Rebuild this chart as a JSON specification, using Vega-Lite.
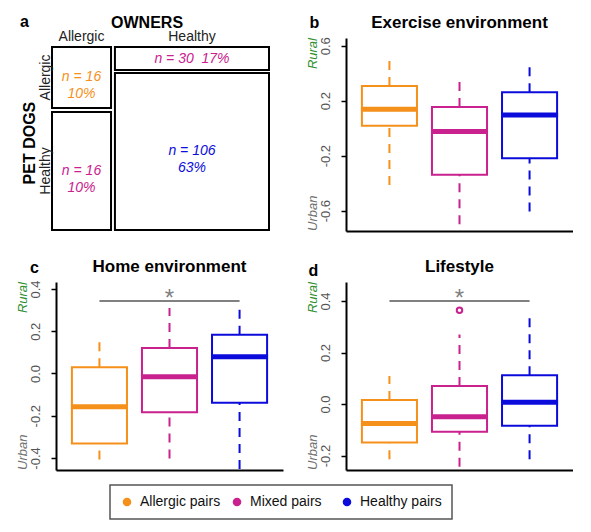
{
  "$schema": "https://vega.github.io/schema/vega-lite/v6.json",
  "background": "white",
  "padding": {"left": 17, "top": 14, "right": 0, "bottom": 0},
  "bounds": "flush",
  "columns": 2,
  "spacing": {"row": 51, "column": 63},
  "config": {
    "font": "Liberation Sans",
    "view": {"stroke": null},
    "axis": {"domainColor": "black", "domainWidth": 2, "tickColor": "black", "tickWidth": 1.5, "tickSize": 5, "labelFont": "Liberation Sans", "labelFontSize": 13, "labelColor": "#555555", "labelAngle": 270, "labelAlign": "center", "labelBaseline": "bottom", "labelPadding": 9, "grid": false}
  },
  "datasets": {
    "exercise": [
      {"group": "Allergic pairs", "lo": -0.413, "q1": 0.018, "med": 0.137, "q3": 0.307, "hi": 0.52},
      {"group": "Mixed pairs", "lo": -0.699, "q1": -0.338, "med": -0.025, "q3": 0.154, "hi": 0.38},
      {"group": "Healthy pairs", "lo": -0.607, "q1": -0.219, "med": 0.096, "q3": 0.261, "hi": 0.465}
    ],
    "home": [
      {"group": "Allergic pairs", "lo": -0.407, "q1": -0.331, "med": -0.158, "q3": 0.03, "hi": 0.176},
      {"group": "Mixed pairs", "lo": -0.402, "q1": -0.184, "med": -0.016, "q3": 0.121, "hi": 0.31},
      {"group": "Healthy pairs", "lo": -0.452, "q1": -0.139, "med": 0.079, "q3": 0.183, "hi": 0.304}
    ],
    "lifestyle": [
      {"group": "Allergic pairs", "lo": -0.214, "q1": -0.149, "med": -0.075, "q3": 0.016, "hi": 0.109},
      {"group": "Mixed pairs", "lo": -0.243, "q1": -0.107, "med": -0.049, "q3": 0.07, "hi": 0.27},
      {"group": "Healthy pairs", "lo": -0.214, "q1": -0.084, "med": 0.007, "q3": 0.112, "hi": 0.354}
    ],
    "lifestyleOutliers": [
      {"group": "Mixed pairs", "value": 0.364}
    ],
    "mosaic": [
      {"owner": "Allergic", "dog": "Allergic", "group": "Allergic pairs", "label": "n = 16\n10%", "x0": 0, "x1": 0.272, "y0": 0, "y1": 0.333},
      {"owner": "Allergic", "dog": "Healthy", "group": "Mixed pairs", "label": "n = 16\n10%", "x0": 0, "x1": 0.272, "y0": 0.355, "y1": 1},
      {"owner": "Healthy", "dog": "Allergic", "group": "Mixed pairs", "label": "n = 30 \u00a017%", "x0": 0.29, "x1": 1, "y0": 0, "y1": 0.126},
      {"owner": "Healthy", "dog": "Healthy", "group": "Healthy pairs", "label": "n = 106\n63%", "x0": 0.29, "x1": 1, "y0": 0.142, "y1": 1}
    ]
  },
  "concat": [
    {
      "width": 227, "height": 193,
      "data": {"name": "mosaic"},
      "layer": [
        {
          "mark": {"type": "rect", "fill": "white", "stroke": "black", "strokeWidth": 2},
          "encoding": {
            "x": {"field": "x0", "type": "quantitative", "scale": {"domain": [0.0184, 1.0645], "nice": false, "zero": false}, "axis": null},
            "x2": {"field": "x1"},
            "y": {"field": "y0", "type": "quantitative", "scale": {"domain": [-0.0492, 1.0055], "reverse": true, "nice": false, "zero": false}, "axis": null},
            "y2": {"field": "y1"}
          }
        },
        {
          "transform": [
            {"fold": ["x0", "x1"], "as": ["xk", "xv"]},
            {"fold": ["y0", "y1"], "as": ["yk", "yv"]},
            {"aggregate": [{"op": "mean", "field": "xv", "as": "xm"}, {"op": "mean", "field": "yv", "as": "ym"}], "groupby": ["owner", "dog", "group", "label"]}
          ],
          "mark": {"type": "text", "fontStyle": "italic", "fontSize": 14, "lineBreak": "\n", "lineHeight": 17, "align": "center", "baseline": "middle"},
          "encoding": {
            "x": {"field": "xm", "type": "quantitative", "axis": null},
            "y": {"field": "ym", "type": "quantitative", "axis": null},
            "text": {"field": "label"},
            "color": {"field": "group", "type": "nominal", "title": null}
          }
        },
        {
          "transform": [
            {"filter": "datum.dog === 'Allergic'"},
            {"fold": ["x0", "x1"], "as": ["xk", "xv"]},
            {"aggregate": [{"op": "mean", "field": "xv", "as": "xm"}], "groupby": ["owner"]}
          ],
          "mark": {"type": "text", "fontSize": 14, "align": "center", "baseline": "alphabetic", "color": "#222222"},
          "encoding": {
            "x": {"field": "xm", "type": "quantitative", "axis": null},
            "y": {"datum": -0.0355, "type": "quantitative", "axis": null},
            "text": {"field": "owner"}
          }
        },
        {
          "transform": [
            {"filter": "datum.owner === 'Allergic'"},
            {"fold": ["y0", "y1"], "as": ["yk", "yv"]},
            {"aggregate": [{"op": "mean", "field": "yv", "as": "ym"}], "groupby": ["dog"]}
          ],
          "mark": {"type": "text", "fontSize": 14, "angle": 270, "align": "center", "baseline": "alphabetic", "color": "#222222"},
          "encoding": {
            "x": {"datum": -0.0092, "type": "quantitative", "axis": null},
            "y": {"field": "ym", "type": "quantitative", "axis": null},
            "text": {"field": "dog"}
          }
        },
        {
          "data": {"values": [{}]},
          "mark": {"type": "text", "text": "PET DOGS", "fontSize": 16, "fontWeight": "bold", "angle": 270, "align": "center", "baseline": "alphabetic", "color": "black"},
          "encoding": {
            "x": {"datum": -0.0783, "type": "quantitative", "axis": null},
            "y": {"datum": 0.525, "type": "quantitative", "axis": null}
          }
        },
        {
          "data": {"values": [{}]},
          "mark": {"type": "text", "text": "OWNERS", "fontSize": 16, "fontWeight": "bold", "align": "center", "baseline": "alphabetic", "color": "black"},
          "encoding": {
            "x": {"datum": 0.438, "type": "quantitative", "axis": null},
            "y": {"datum": -0.1038, "type": "quantitative", "axis": null}
          }
        },
        {
          "data": {"values": [{}]},
          "mark": {"type": "text", "text": "a", "fontSize": 16, "fontWeight": "bold", "align": "center", "baseline": "alphabetic", "color": "black"},
          "encoding": {
            "x": {"datum": -0.1267, "type": "quantitative", "axis": null},
            "y": {"datum": -0.1093, "type": "quantitative", "axis": null}
          }
        }
      ]
    },
    {
      "width": 227, "height": 193,
      "data": {"name": "exercise"},
      "layer": [
        {
          "mark": {"type": "rule", "strokeDash": [9, 7], "strokeWidth": 2},
          "encoding": {
            "x": {"field": "group", "type": "nominal", "scale": {"domain": ["Allergic pairs", "Mixed pairs", "Healthy pairs"], "paddingInner": 0.214, "paddingOuter": 0.227}, "axis": {"labels": false, "ticks": false, "title": null}},
            "y": {"field": "q3", "type": "quantitative", "scale": {"domain": [-0.748, 0.656], "nice": false, "zero": false}, "axis": {"title": null, "values": [-0.6, -0.4, -0.2, 0, 0.2, 0.4, 0.6], "labelExpr": "(abs(datum.value) == 0.4 || datum.value == 0) ? '' : (datum.value < 0 ? '-' : '') + format(abs(datum.value), '.1f')"}},
            "y2": {"field": "hi"},
            "color": {
              "field": "group", "type": "nominal", "title": null,
              "scale": {"domain": ["Allergic pairs", "Mixed pairs", "Healthy pairs"], "range": ["#F5901A", "#C9218E", "#0B0BDB"]},
              "legend": {
                "title": null, "orient": "none", "legendX": 54, "legendY": 447, "direction": "horizontal",
                "symbolType": "circle", "symbolSize": 50, "labelFontSize": 14, "labelFont": "Liberation Sans", "labelColor": "#111111",
                "strokeColor": "#555555", "padding": 10, "gridAlign": "all", "columnPadding": 8, "labelOffset": 6,
                "encode": {
                  "symbols": {"update": {"fill": {"scale": "color", "field": "value"}, "stroke": {"value": "transparent"}, "opacity": {"value": 1}}},
                  "legend": {"update": {"strokeWidth": {"value": 1.5}}}
                }
              }
            }
          }
        },
        {
          "mark": {"type": "rule", "strokeDash": [9, 7], "strokeWidth": 2},
          "encoding": {
            "x": {"field": "group", "type": "nominal"},
            "y": {"field": "lo", "type": "quantitative"},
            "y2": {"field": "q1"},
            "color": {"field": "group", "type": "nominal", "title": null}
          }
        },
        {
          "mark": {"type": "bar", "filled": false, "strokeWidth": 2, "opacity": 1},
          "encoding": {
            "x": {"field": "group", "type": "nominal"},
            "y": {"field": "q1", "type": "quantitative"},
            "y2": {"field": "q3"},
            "color": {"field": "group", "type": "nominal", "title": null}
          }
        },
        {
          "mark": {"type": "tick", "thickness": 5, "size": 57, "opacity": 1},
          "encoding": {
            "x": {"field": "group", "type": "nominal"},
            "y": {"field": "med", "type": "quantitative"},
            "color": {"field": "group", "type": "nominal", "title": null}
          }
        },
        {
          "data": {"values": [{}]},
          "mark": {"type": "text", "text": "Exercise environment", "fontSize": 17, "fontWeight": "bold", "align": "center", "baseline": "alphabetic", "color": "black", "dy": -10},
          "encoding": {"x": {"datum": "Mixed pairs", "type": "nominal"}, "y": {"datum": 0.656, "type": "quantitative"}}
        },
        {
          "data": {"values": [{}]},
          "mark": {"type": "text", "text": "Rural", "angle": 270, "align": "right", "baseline": "alphabetic", "fontStyle": "italic", "fontSize": 13, "color": "#2F8F2F", "dy": -72.4},
          "encoding": {"x": {"datum": "Allergic pairs", "type": "nominal"}, "y": {"datum": 0.656, "type": "quantitative"}}
        },
        {
          "data": {"values": [{}]},
          "mark": {"type": "text", "text": "Urban", "angle": 270, "align": "left", "baseline": "alphabetic", "fontStyle": "italic", "fontSize": 13, "color": "#707070", "dy": -72.4},
          "encoding": {"x": {"datum": "Allergic pairs", "type": "nominal"}, "y": {"datum": -0.748, "type": "quantitative"}}
        },
        {
          "data": {"values": [{}]},
          "mark": {"type": "text", "text": "b", "fontSize": 16, "fontWeight": "bold", "align": "center", "baseline": "alphabetic", "color": "black", "dx": -75, "dy": -10},
          "encoding": {"x": {"datum": "Allergic pairs", "type": "nominal"}, "y": {"datum": 0.656, "type": "quantitative"}}
        }
      ]
    },
    {
      "width": 227, "height": 188,
      "data": {"name": "home"},
      "layer": [
        {
          "mark": {"type": "rule", "strokeDash": [9, 7], "strokeWidth": 2},
          "encoding": {
            "x": {"field": "group", "type": "nominal", "scale": {"domain": ["Allergic pairs", "Mixed pairs", "Healthy pairs"], "paddingInner": 0.214, "paddingOuter": 0.227}, "axis": {"labels": false, "ticks": false, "title": null}},
            "y": {"field": "q3", "type": "quantitative", "scale": {"domain": [-0.457, 0.433], "nice": false, "zero": false}, "axis": {"title": null, "values": [-0.4, -0.2, 0, 0.2, 0.4], "labelExpr": "(datum.value < 0 ? '-' : '') + format(abs(datum.value), '.1f')"}},
            "y2": {"field": "hi"},
            "color": {"field": "group", "type": "nominal", "title": null}
          }
        },
        {
          "mark": {"type": "rule", "strokeDash": [9, 7], "strokeWidth": 2},
          "encoding": {
            "x": {"field": "group", "type": "nominal"},
            "y": {"field": "lo", "type": "quantitative"},
            "y2": {"field": "q1"},
            "color": {"field": "group", "type": "nominal", "title": null}
          }
        },
        {
          "mark": {"type": "bar", "filled": false, "strokeWidth": 2, "opacity": 1},
          "encoding": {
            "x": {"field": "group", "type": "nominal"},
            "y": {"field": "q1", "type": "quantitative"},
            "y2": {"field": "q3"},
            "color": {"field": "group", "type": "nominal", "title": null}
          }
        },
        {
          "mark": {"type": "tick", "thickness": 5, "size": 57, "opacity": 1},
          "encoding": {
            "x": {"field": "group", "type": "nominal"},
            "y": {"field": "med", "type": "quantitative"},
            "color": {"field": "group", "type": "nominal", "title": null}
          }
        },
        {
          "data": {"values": [{}]},
          "mark": {"type": "rule", "color": "#808080", "strokeWidth": 2},
          "encoding": {"x": {"datum": "Allergic pairs", "type": "nominal"}, "x2": {"datum": "Healthy pairs"}, "y": {"datum": 0.343, "type": "quantitative"}}
        },
        {
          "data": {"values": [{}]},
          "mark": {"type": "text", "text": "*", "fontSize": 24, "color": "#808080", "align": "center", "baseline": "alphabetic", "dy": 5},
          "encoding": {"x": {"datum": "Mixed pairs", "type": "nominal"}, "y": {"datum": 0.343, "type": "quantitative"}}
        },
        {
          "data": {"values": [{}]},
          "mark": {"type": "text", "text": "Home environment", "fontSize": 17, "fontWeight": "bold", "align": "center", "baseline": "alphabetic", "color": "black", "dy": -10},
          "encoding": {"x": {"datum": "Mixed pairs", "type": "nominal"}, "y": {"datum": 0.433, "type": "quantitative"}}
        },
        {
          "data": {"values": [{}]},
          "mark": {"type": "text", "text": "Rural", "angle": 270, "align": "right", "baseline": "alphabetic", "fontStyle": "italic", "fontSize": 13, "color": "#2F8F2F", "dy": -72.4},
          "encoding": {"x": {"datum": "Allergic pairs", "type": "nominal"}, "y": {"datum": 0.433, "type": "quantitative"}}
        },
        {
          "data": {"values": [{}]},
          "mark": {"type": "text", "text": "Urban", "angle": 270, "align": "left", "baseline": "alphabetic", "fontStyle": "italic", "fontSize": 13, "color": "#707070", "dy": -72.4},
          "encoding": {"x": {"datum": "Allergic pairs", "type": "nominal"}, "y": {"datum": -0.457, "type": "quantitative"}}
        },
        {
          "data": {"values": [{}]},
          "mark": {"type": "text", "text": "c", "fontSize": 16, "fontWeight": "bold", "align": "center", "baseline": "alphabetic", "color": "black", "dx": -65, "dy": -9},
          "encoding": {"x": {"datum": "Allergic pairs", "type": "nominal"}, "y": {"datum": 0.433, "type": "quantitative"}}
        }
      ]
    },
    {
      "width": 227, "height": 188,
      "data": {"name": "lifestyle"},
      "layer": [
        {
          "mark": {"type": "rule", "strokeDash": [9, 7], "strokeWidth": 2},
          "encoding": {
            "x": {"field": "group", "type": "nominal", "scale": {"domain": ["Allergic pairs", "Mixed pairs", "Healthy pairs"], "paddingInner": 0.214, "paddingOuter": 0.227}, "axis": {"labels": false, "ticks": false, "title": null}},
            "y": {"field": "q3", "type": "quantitative", "scale": {"domain": [-0.256, 0.474], "nice": false, "zero": false}, "axis": {"title": null, "values": [-0.2, -0.1, 0, 0.1, 0.2, 0.3, 0.4], "labelExpr": "(round(abs(datum.value) * 10) % 2 == 1) ? '' : (datum.value < 0 ? '-' : '') + format(abs(datum.value), '.1f')"}},
            "y2": {"field": "hi"},
            "color": {"field": "group", "type": "nominal", "title": null}
          }
        },
        {
          "mark": {"type": "rule", "strokeDash": [9, 7], "strokeWidth": 2},
          "encoding": {
            "x": {"field": "group", "type": "nominal"},
            "y": {"field": "lo", "type": "quantitative"},
            "y2": {"field": "q1"},
            "color": {"field": "group", "type": "nominal", "title": null}
          }
        },
        {
          "mark": {"type": "bar", "filled": false, "strokeWidth": 2, "opacity": 1},
          "encoding": {
            "x": {"field": "group", "type": "nominal"},
            "y": {"field": "q1", "type": "quantitative"},
            "y2": {"field": "q3"},
            "color": {"field": "group", "type": "nominal", "title": null}
          }
        },
        {
          "mark": {"type": "tick", "thickness": 5, "size": 57, "opacity": 1},
          "encoding": {
            "x": {"field": "group", "type": "nominal"},
            "y": {"field": "med", "type": "quantitative"},
            "color": {"field": "group", "type": "nominal", "title": null}
          }
        },
        {
          "data": {"name": "lifestyleOutliers"},
          "mark": {"type": "point", "filled": false, "strokeWidth": 2, "size": 30, "opacity": 1},
          "encoding": {
            "x": {"field": "group", "type": "nominal"},
            "y": {"field": "value", "type": "quantitative"},
            "color": {"field": "group", "type": "nominal", "title": null}
          }
        },
        {
          "data": {"values": [{}]},
          "mark": {"type": "rule", "color": "#808080", "strokeWidth": 2},
          "encoding": {"x": {"datum": "Allergic pairs", "type": "nominal"}, "x2": {"datum": "Healthy pairs"}, "y": {"datum": 0.4, "type": "quantitative"}}
        },
        {
          "data": {"values": [{}]},
          "mark": {"type": "text", "text": "*", "fontSize": 24, "color": "#808080", "align": "center", "baseline": "alphabetic", "dy": 5},
          "encoding": {"x": {"datum": "Mixed pairs", "type": "nominal"}, "y": {"datum": 0.4, "type": "quantitative"}}
        },
        {
          "data": {"values": [{}]},
          "mark": {"type": "text", "text": "Lifestyle", "fontSize": 17, "fontWeight": "bold", "align": "center", "baseline": "alphabetic", "color": "black", "dy": -10},
          "encoding": {"x": {"datum": "Mixed pairs", "type": "nominal"}, "y": {"datum": 0.474, "type": "quantitative"}}
        },
        {
          "data": {"values": [{}]},
          "mark": {"type": "text", "text": "Rural", "angle": 270, "align": "right", "baseline": "alphabetic", "fontStyle": "italic", "fontSize": 13, "color": "#2F8F2F", "dy": -72.4},
          "encoding": {"x": {"datum": "Allergic pairs", "type": "nominal"}, "y": {"datum": 0.474, "type": "quantitative"}}
        },
        {
          "data": {"values": [{}]},
          "mark": {"type": "text", "text": "Urban", "angle": 270, "align": "left", "baseline": "alphabetic", "fontStyle": "italic", "fontSize": 13, "color": "#707070", "dy": -72.4},
          "encoding": {"x": {"datum": "Allergic pairs", "type": "nominal"}, "y": {"datum": -0.256, "type": "quantitative"}}
        },
        {
          "data": {"values": [{}]},
          "mark": {"type": "text", "text": "d", "fontSize": 16, "fontWeight": "bold", "align": "center", "baseline": "alphabetic", "color": "black", "dx": -76, "dy": -6},
          "encoding": {"x": {"datum": "Allergic pairs", "type": "nominal"}, "y": {"datum": 0.474, "type": "quantitative"}}
        }
      ]
    }
  ]
}
